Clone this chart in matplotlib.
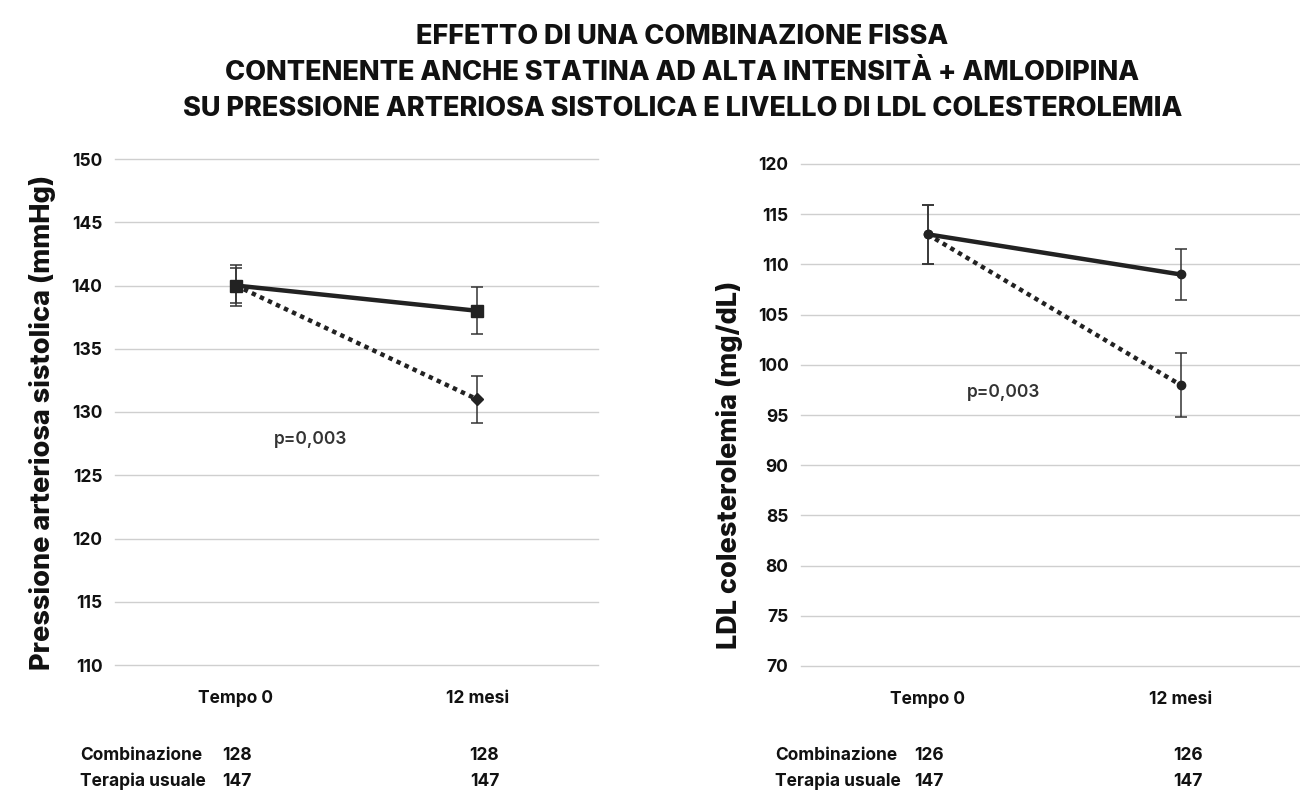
import matplotlib.pyplot as plt
from matplotlib.transforms import blended_transform_factory

plt.rcParams['font.family'] = ['Inter', 'DejaVu Sans']

# dati
tempi = ['Tempo 0', '12 mesi']

pas_comb = [140, 138]
pas_comb_err = [1.6, 1.85]
pas_usual = [140, 131]
pas_usual_err = [1.4, 1.85]

ldl_comb = [113, 109]
ldl_comb_err = [2.95, 2.55]
ldl_usual = [113, 98]
ldl_usual_err = [2.95, 3.15]

gruppi = ['Combinazione', 'Terapia usuale']
n_pas = [[128, 128], [147, 147]]
n_ldl = [[126, 126], [147, 147]]

pas_ticks = list(range(110, 151, 5))
ldl_ticks = list(range(70, 121, 5))

TXT = '#111111'
LINE = '#222222'
ERR = '#333333'

fig = plt.figure(figsize=(13, 7.9), dpi=100)

fig.text(0.525, 0.970, 'EFFETTO DI UNA COMBINAZIONE FISSA\n'
         'CONTENENTE ANCHE STATINA AD ALTA INTENSITÀ + AMLODIPINA\n'
         'SU PRESSIONE ARTERIOSA SISTOLICA E LIVELLO DI LDL COLESTEROLEMIA',
         ha='center', va='top', fontsize=19.5, fontweight='heavy', color=TXT,
         linespacing=1.5)


def pannello(rect, comb, comb_err, usual, usual_err, ticks, ylabel, ylab_y,
             m_comb, m_usual, ms_comb, ms_usual, p_xy, n_vals, lab_x):
    ax = fig.add_axes(rect)
    x = [0.5, 1.5]
    ax.errorbar(x, usual, yerr=usual_err, color=LINE, lw=3.2,
                linestyle=(0, (1, 1)), marker=m_usual, ms=ms_usual,
                ecolor=ERR, elinewidth=1.1, capsize=4, capthick=1.1, zorder=3)
    ax.errorbar(x, comb, yerr=comb_err, color=LINE, lw=3.2,
                marker=m_comb, ms=ms_comb,
                ecolor=ERR, elinewidth=1.1, capsize=4, capthick=1.1, zorder=4)
    ax.set_xlim(0, 2)
    ax.set_ylim(ticks[0], ticks[-1])
    ax.set_yticks(ticks)
    ax.set_xticks(x)
    ax.set_xticklabels(tempi, fontsize=12.5, fontweight='bold', color=TXT)
    for lab in ax.get_yticklabels():
        lab.set_fontsize(12.5)
        lab.set_fontweight('bold')
        lab.set_color(TXT)
    ax.tick_params(length=0, pad=9)
    ax.tick_params(axis='x', pad=18)
    ax.grid(axis='y', color='#cfcfcf', lw=1)
    for gl in ax.get_ygridlines():
        gl.set_clip_on(False)
    ax.set_axisbelow(True)
    for s in ax.spines.values():
        s.set_visible(False)
    ax.set_ylabel(ylabel, fontsize=19.5, fontweight='heavy', color=TXT)
    ax.yaxis.label.set_position((0, ylab_y))
    ax.text(p_xy[0], p_xy[1], 'p=0,003', ha='center', va='center',
            fontsize=12.5, fontweight='semibold', color='#333333')

    # numerosità sotto il grafico
    tr = blended_transform_factory(ax.transData, fig.transFigure)
    for row, (g, vals) in enumerate(zip(gruppi, n_vals)):
        yy = 0.044 - row * 0.033
        fig.text(lab_x, yy, g, ha='left', va='center', fontsize=12.5,
                 fontweight='bold', color=TXT)
        ax.text(0.505, yy, str(vals[0]), transform=tr, ha='center', va='center',
                fontsize=12.5, fontweight='bold', color=TXT)
        ax.text(1.53, yy, str(vals[1]), transform=tr, ha='center', va='center',
                fontsize=12.5, fontweight='bold', color=TXT)
    return ax


ax1 = pannello([115 / 1300, 1 - 665 / 790, 483 / 1300, 506 / 790],
               pas_comb, pas_comb_err, pas_usual, pas_usual_err, pas_ticks,
               'Pressione arteriosa sistolica (mmHg)', 0.48, 's', 'D', 8, 6,
               (0.81, 127.8), n_pas, 80 / 1300)

ax2 = pannello([801 / 1300, 1 - 666 / 790, 506 / 1300, 502 / 790],
               ldl_comb, ldl_comb_err, ldl_usual, ldl_usual_err, ldl_ticks,
               'LDL colesterolemia (mg/dL)', 0.40, 'o', 'o', 6, 6,
               (0.8, 97.2), n_ldl, 775 / 1300)

# posizione orizzontale delle etichette asse y (in pixel della figura)
for ax, xpix in ((ax1, 56), (ax2, 743)):
    bb = ax.get_position()
    ax.yaxis.set_label_coords((xpix / 1300 - bb.x0) / bb.width,
                              ax.yaxis.label.get_position()[1])

fig.savefig('out.png', dpi=100)
